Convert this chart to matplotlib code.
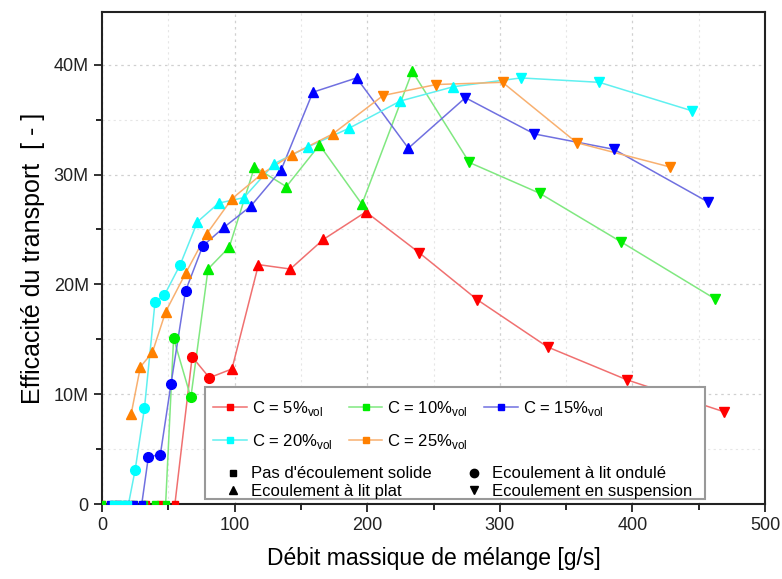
import matplotlib
matplotlib.use("Agg")
import matplotlib.pyplot as plt
from matplotlib.lines import Line2D
from matplotlib.patches import Rectangle
from matplotlib.ticker import MultipleLocator, FuncFormatter

plt.rcParams['font.family'] = ['Liberation Sans', 'DejaVu Sans']
plt.rcParams['mathtext.fontset'] = 'custom'
plt.rcParams['mathtext.rm'] = 'Liberation Sans'

# ---- data (x: g/s, y: millions) ; regime: s=no flow, o=ondulé, p=plat, v=suspension
labels = ["C = 5%$_{\\mathrm{vol}}$", "C = 10%$_{\\mathrm{vol}}$", "C = 15%$_{\\mathrm{vol}}$",
          "C = 20%$_{\\mathrm{vol}}$", "C = 25%$_{\\mathrm{vol}}$"]
colors = ["#ff0000", "#00ee00", "#0000ff", "#00ffff", "#ff8000"]
line_colors = ["#f07070", "#80e880", "#7070e0", "#60f0f0", "#f8b070"]

x5 = [0, 11, 22, 33, 44, 55, 68, 81, 98, 118, 142, 167, 199, 239, 283, 336, 396, 469]
y5 = [0, 0, 0, 0, 0, 0, 13.4, 11.5, 12.3, 21.8, 21.4, 24.1, 26.6, 22.9, 18.6, 14.3, 11.3, 8.4]
r5 = "ssssssoopppppvvvvv"

x10 = [0, 8, 16, 24, 32, 40, 48, 54, 67, 80, 96, 115, 139, 164, 196, 234, 277, 330, 391, 462]
y10 = [0, 0, 0, 0, 0, 0, 0, 15.1, 9.7, 21.4, 23.4, 30.7, 28.9, 32.7, 27.3, 39.4, 31.1, 28.3, 23.9, 18.7]
r10 = "sssssssoopppppppvvvvv"[:20]

x15 = [6, 12, 18, 24, 30, 35, 44, 52, 63, 76, 92, 112, 135, 159, 192, 231, 274, 326, 386, 457]
y15 = [0, 0, 0, 0, 0, 4.3, 4.5, 10.9, 19.4, 23.5, 25.2, 27.1, 30.4, 37.5, 38.8, 32.4, 37.0, 33.7, 32.3, 27.5]
r15 = "sssssoooooppppppvvvv"

x20 = [8, 12, 16, 20, 25, 32, 40, 47, 59, 72, 88, 107, 130, 155, 186, 225, 265, 316, 375, 445]
y20 = [0, 0, 0, 0, 3.1, 8.7, 18.4, 19.0, 21.8, 25.7, 27.4, 27.9, 31.0, 32.5, 34.2, 36.7, 38.0, 38.8, 38.4, 35.8]
r20 = "ssssoooooppppppppvvvv"[:20]

x25 = [22, 29, 38, 48, 63, 79, 98, 121, 143, 174, 212, 252, 302, 358, 428]
y25 = [8.2, 12.5, 13.8, 17.5, 21.0, 24.6, 27.8, 30.1, 31.8, 33.7, 37.2, 38.2, 38.4, 32.9, 30.7]
r25 = "ppppppppppvvvvv"

series = [(x5, y5, r5), (x10, y10, r10), (x15, y15, r15), (x20, y20, r20), (x25, y25, r25)]
marker_of = {'s': 's', 'o': 'o', 'p': '^', 'v': 'v'}
msize = {'s': 4, 'o': 7, 'p': 7.5, 'v': 7.5}

fig = plt.figure(figsize=(7.82, 5.79), dpi=100)
ax = fig.add_axes([0.1304, 0.1295, 0.848, 0.8497])

for (xs, ys, rs), c, lc in zip(series, colors, line_colors):
    ax.plot(xs, ys, '-', color=lc, lw=1.1, zorder=2)
    for reg in 'sopv':
        px = [x for x, r in zip(xs, rs) if r == reg]
        py = [y for y, r in zip(ys, rs) if r == reg]
        if px:
            ax.plot(px, py, linestyle='none', marker=marker_of[reg], ms=msize[reg],
                    color=c, markeredgecolor=c, zorder=3)

ax.set_xlim(0, 500)
ax.set_ylim(0, 44.8)
ax.xaxis.set_major_locator(MultipleLocator(100))
ax.xaxis.set_minor_locator(MultipleLocator(50))
ax.yaxis.set_major_locator(MultipleLocator(10))
ax.yaxis.set_minor_locator(MultipleLocator(5))
ax.yaxis.set_major_formatter(FuncFormatter(lambda v, p: '0' if v == 0 else f'{int(round(v))}M'))
ax.tick_params(which='major', direction='out', length=6, width=1.3, labelsize=13, colors='#222222')
ax.tick_params(which='minor', direction='out', length=4, width=1.2)
for s in ax.spines.values():
    s.set_linewidth(1.5)
    s.set_color('#222222')
ax.grid(which='major', linestyle=(0, (2, 3)), color='#d0d0d0', lw=0.9, zorder=0)
ax.grid(which='minor', linestyle=(0, (2, 3)), color='#e6e6e6', lw=0.8, zorder=0)
ax.set_axisbelow(True)

ax.set_xlabel("Débit massique de mélange [g/s]", fontsize=16.5, labelpad=9)
ax.set_ylabel("Efficacité du transport  [ - ]", fontsize=18, labelpad=6)

# legend frame
ax.add_patch(Rectangle((0.155, 0.01), 0.755, 0.228, transform=ax.transAxes,
                       facecolor='white', edgecolor='#999999', lw=1.5, zorder=5))

# series legend (ordered so columns fill as rows)
h = [Line2D([0], [0], color=lc, lw=1.1, marker='s', ms=5, markerfacecolor=c, markeredgecolor=c)
     for c, lc in zip(colors, line_colors)]
order = [0, 3, 1, 4, 2]
leg1 = ax.legend([h[i] for i in order], [labels[i] for i in order], ncol=3,
                 loc='upper left', bbox_to_anchor=(0.158, 0.228), frameon=False,
                 fontsize=12, handlelength=2.0, handletextpad=0.3, columnspacing=1.0,
                 labelspacing=0.85, borderaxespad=0)
leg1.set_zorder(6)
ax.add_artist(leg1)

mh = [Line2D([0], [0], linestyle='none', marker=m, ms=ms, color='black')
      for m, ms in [('s', 5), ('^', 6), ('o', 6), ('v', 6)]]
ml = ["Pas d'écoulement solide", "Ecoulement à lit plat",
      "Ecoulement à lit ondulé", "Ecoulement en suspension"]
leg2 = ax.legend(mh, ml, ncol=2, loc='upper left', bbox_to_anchor=(0.175, 0.09),
                 frameon=False, fontsize=12, handlelength=1.0, handletextpad=0.6,
                 columnspacing=2.0, labelspacing=0.15, borderaxespad=0)
leg2.set_zorder(6)

fig.savefig("out.png", dpi=100)
